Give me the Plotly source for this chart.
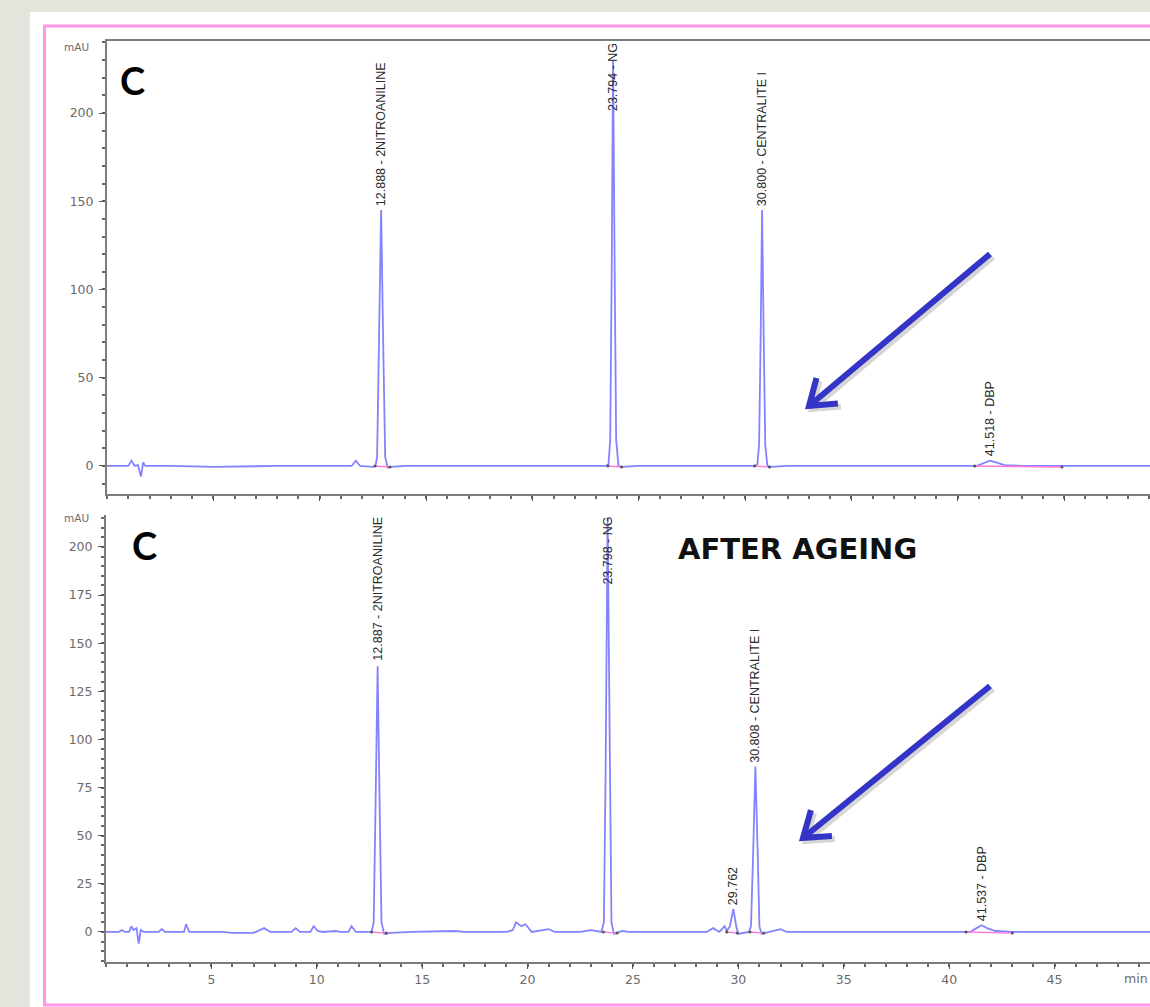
import math
import plotly.graph_objects as go

# ---------------- data ----------------
# Top chromatogram (before ageing): retention time (min) / signal (mAU)
top_t = [0.0, 1.0, 1.15, 1.3, 1.45, 1.6, 1.7, 1.8, 3.0, 5.0, 8.0, 11.5, 11.7, 11.9,
         12.5, 12.62, 12.70, 12.78, 12.888, 13.0, 13.08, 13.2, 13.35, 14.0,
         23.45, 23.58, 23.66, 23.73, 23.794, 23.87, 23.94, 24.05, 24.2, 25.0,
         30.45, 30.58, 30.66, 30.73, 30.800, 30.88, 30.95, 31.05, 31.2, 32.0,
         40.9, 41.2, 41.518, 41.8, 42.2, 43.0, 49.5]
top_y = [0.0, 0.0, 3.0, 0.0, 0.5, -6.0, 2.0, 0.0, 0.0, -0.5, 0.0, 0.0, 3.0, 0.0,
         -0.5, 0.0, 5.0, 60.0, 145.0, 60.0, 5.0, -1.0, -0.5, 0.0,
         0.0, 1.0, 15.0, 110.0, 230.0, 110.0, 15.0, 0.0, -0.5, 0.0,
         0.0, 1.0, 12.0, 70.0, 145.0, 70.0, 12.0, 0.0, -0.5, 0.0,
         0.0, 1.5, 3.0, 2.0, 0.5, 0.0, 0.0]
top_peak_t = [12.888, 23.794, 30.800, 41.518]
top_peak_h = [145.0, 230.0, 145.0, 3.0]
top_peak_labels = ["12.888 - 2NITROANILINE", "23.794 - NG", "30.800 - CENTRALITE I", "41.518 - DBP"]
top_base_start = [12.6, 23.55, 30.45, 40.8]
top_base_end = [13.3, 24.2, 31.15, 44.9]

# Bottom chromatogram (after ageing)
bot_t = [0.0, 0.6, 0.75, 0.9, 1.1, 1.2, 1.3, 1.45, 1.55, 1.65, 1.8, 2.5, 2.65, 2.8,
         3.7, 3.8, 3.95, 5.5, 6.0, 7.0, 7.5, 7.8, 8.8, 9.0, 9.2, 9.7, 9.85, 10.05,
         10.3, 10.9, 11.1, 11.5, 11.65, 11.85, 12.6,
         12.70, 12.78, 12.887, 12.99, 13.07, 13.2, 13.5, 14.5, 16.5, 17.0,
         19.0, 19.3, 19.45, 19.7, 19.9, 20.2, 21.0, 21.3, 22.5, 23.0, 23.5,
         23.62, 23.70, 23.798, 23.90, 23.98, 24.1, 24.5, 24.8,
         28.5, 28.8, 29.1, 29.35, 29.45, 29.6, 29.762, 29.9, 30.0, 30.5,
         30.6, 30.7, 30.808, 30.92, 31.0, 31.1, 32.0, 32.3,
         41.0, 41.3, 41.537, 41.8, 42.2, 43.0, 49.6]
bot_y = [0.0, 0.0, 1.0, 0.0, 0.0, 3.0, 1.0, 2.0, -6.0, 1.0, 0.0, 0.0, 1.5, 0.0,
         0.0, 4.0, 0.0, 0.0, -0.5, -0.5, 2.0, 0.0, 0.0, 2.0, 0.0, 0.0, 3.0, 0.5,
         0.0, 0.5, 0.0, 0.0, 3.0, 0.0, 0.0,
         5.0, 60.0, 138.0, 60.0, 5.0, -1.0, -0.5, 0.0, 0.5, 0.0,
         0.0, 1.0, 5.0, 3.0, 4.0, 0.0, 1.5, 0.0, 0.0, 1.0, 0.0,
         5.0, 80.0, 215.0, 80.0, 5.0, -1.0, 0.5, 0.0,
         0.0, 2.0, 0.0, 3.0, 0.5, 3.0, 12.0, 3.0, -1.0, 0.0,
         3.0, 40.0, 86.0, 40.0, 3.0, -1.0, 1.5, 0.0,
         0.0, 2.0, 3.5, 2.0, 0.5, 0.0, 0.0]
bot_peak_t = [12.887, 23.798, 29.762, 30.808, 41.537]
bot_peak_h = [138.0, 215.0, 12.0, 86.0, 3.5]
bot_peak_labels = ["12.887 - 2NITROANILINE", "23.798 - NG", "29.762", "30.808 - CENTRALITE I", "41.537 - DBP"]
bot_base_start = [12.6, 23.6, 29.45, 30.55, 40.8]
bot_base_end = [13.3, 24.25, 29.95, 31.2, 43.0]

top_yticks = [0, 50, 100, 150, 200]
bot_yticks = [0, 25, 50, 75, 100, 125, 150, 175, 200]
x_ticks = [5, 10, 15, 20, 25, 30, 35, 40, 45]

# ---------------- styling / geometry ----------------
W, H = 1150, 1007
TRACE = "rgba(100,100,255,0.8)"
PINK = "rgb(255,120,220)"
AXIS = "#7d7d7d"
TICKTXT = "#6a6a6a"
TICKFONT = dict(family="DejaVu Sans, Liberation Sans, sans-serif", size=12.5, color=TICKTXT)
LABEL_FONT = dict(family="Liberation Sans, Arial, sans-serif", size=12.5, color="#2a2a2a")

def px(x):
    return x / W

def py(y):
    return 1 - y / H

top_yr = [-15.9, 240.8]
bot_yr = [-15.6, 216.6]
top_dom_y = [py(494), py(41)]
bot_dom_y = [py(962), py(515)]

fig = go.Figure()

fig.add_trace(go.Scatter(x=top_t, y=top_y, mode="lines", xaxis="x", yaxis="y",
                         line=dict(color=TRACE, width=1.8), hoverinfo="skip"))
fig.add_trace(go.Scatter(x=bot_t, y=bot_y, mode="lines", xaxis="x2", yaxis="y2",
                         line=dict(color=TRACE, width=1.8), hoverinfo="skip"))


def baselines(starts, ends, xa, ya):
    xs, ys = [], []
    for s, e in zip(starts, ends):
        xs += [s, e, None]
        ys += [0, -0.6, None]
    fig.add_trace(go.Scatter(x=xs, y=ys, mode="lines+markers", xaxis=xa, yaxis=ya,
                             line=dict(color=PINK, width=1.4),
                             marker=dict(color="#555555", size=3, symbol="circle"),
                             hoverinfo="skip"))

baselines(top_base_start, top_base_end, "x", "y")
baselines(bot_base_start, bot_base_end, "x2", "y2")

annotations = []


def peak_labels(ts, hs, labels, xref, yref, yr, dom):
    pxu = (dom[1] - dom[0]) * H / (yr[1] - yr[0])
    for t, h, lab in zip(ts, hs, labels):
        lab_px = len(lab) * 6.9 + 4
        room = (yr[1] - h) * pxu
        if room < lab_px:
            annotations.append(dict(x=t, y=1, xref=xref, yref=yref + " domain", text=lab,
                                    textangle=-90, showarrow=False, xanchor="center",
                                    yanchor="top", font=LABEL_FONT))
        else:
            annotations.append(dict(x=t, y=h, xref=xref, yref=yref, text=lab, textangle=-90,
                                    showarrow=False, xanchor="center", yanchor="bottom",
                                    yshift=2, font=LABEL_FONT))

peak_labels(top_peak_t, top_peak_h, top_peak_labels, "x", "y", top_yr, top_dom_y)
peak_labels(bot_peak_t, bot_peak_h, bot_peak_labels, "x2", "y2", bot_yr, bot_dom_y)


def paper_text(x, y, text, font, xanchor="center"):
    return dict(x=px(x), y=py(y), xref="paper", yref="paper", text=text, showarrow=False,
                xanchor=xanchor, yanchor="middle", font=font)

CFONT = dict(family="Lato, Open Sans, sans-serif", size=38, color="#000000")
MAUFONT = dict(family="DejaVu Sans, Liberation Sans, sans-serif", size=10.5, color=TICKTXT)
annotations += [
    paper_text(132, 80, "<b>C</b>", CFONT),
    paper_text(144, 545, "<b>C</b>", CFONT),
    paper_text(797, 549, "<b>AFTER AGEING</b>",
               dict(family="DejaVu Sans, Verdana, sans-serif", size=29, color="#111111")),
    paper_text(77, 47, "mAU", MAUFONT),
    paper_text(77, 518, "mAU", MAUFONT),
    paper_text(1150, 978, "min", TICKFONT, xanchor="right"),
]

shapes = [
    dict(type="rect", xref="paper", yref="paper", x0=px(30), x1=1.02, y0=-0.02, y1=py(12),
         fillcolor="white", line=dict(width=0), layer="below"),
    dict(type="rect", xref="paper", yref="paper", x0=px(44.5), x1=1.05, y0=py(1005), y1=py(26),
         fillcolor="rgba(0,0,0,0)", line=dict(color="rgb(255,150,230)", width=3), layer="below"),
]


def arrow(tail, tip, color, width, dx=0, dy=0):
    vx, vy = tail[0] - tip[0], tail[1] - tip[1]
    n = math.hypot(vx, vy)
    vx, vy = vx / n, vy / n
    L = 29
    ends = []
    for ang in (35, -35):
        a = math.radians(ang)
        ex = vx * math.cos(a) - vy * math.sin(a)
        ey = vx * math.sin(a) + vy * math.cos(a)
        ends.append((tip[0] + L * ex, tip[1] + L * ey))
    def P(p):
        return f"{px(p[0] + dx):.5f},{py(p[1] + dy):.5f}"
    path = (f"M{P(tail)} L{P(tip)} M{P(ends[0])} L{P(tip)} L{P(ends[1])}")
    return dict(type="path", xref="paper", yref="paper", path=path,
                line=dict(color=color, width=width), layer="above")

for tail, tip in [((990, 254), (809, 406)), ((990, 686), (803, 838))]:
    shapes.append(arrow(tail, tip, "rgba(0,0,0,0.16)", 6, dx=3, dy=3))
    shapes.append(arrow(tail, tip, "#3434c6", 6))

common_x = dict(showgrid=False, zeroline=False, showline=True, linecolor=AXIS, linewidth=2,
                ticks="outside", ticklen=5, tickwidth=1, tickcolor="#555555",
                tickfont=TICKFONT, tickvals=x_ticks,
                minor=dict(dtick=1, tick0=0, ticks="outside", ticklen=3, tickcolor="#666666",
                           tickwidth=1.5))
common_y = dict(showgrid=False, zeroline=False, showline=True, linecolor=AXIS, linewidth=2,
                ticks="outside", ticklen=6, tickwidth=1, tickcolor="#555555",
                tickfont=TICKFONT, ticklabelstandoff=3)

fig.update_layout(
    width=W, height=H,
    margin=dict(l=0, r=0, t=0, b=0),
    paper_bgcolor="#e4e4dc",
    plot_bgcolor="white",
    showlegend=False,
    annotations=annotations,
    shapes=shapes,
    xaxis=dict(common_x, domain=[px(107), 1], range=[0, 49.04], anchor="y",
               showticklabels=False, mirror=True),
    yaxis=dict(common_y, domain=top_dom_y, range=top_yr, anchor="x", tickvals=top_yticks,
               minor=dict(dtick=10, tick0=0, ticks="outside", ticklen=3, tickcolor="#666666",
                          tickwidth=1.5)),
    xaxis2=dict(common_x, domain=[px(106), 1], range=[0, 49.53], anchor="y2"),
    yaxis2=dict(common_y, domain=bot_dom_y, range=bot_yr, anchor="x2", tickvals=bot_yticks,
                minor=dict(dtick=5, tick0=0, ticks="outside", ticklen=3, tickcolor="#666666",
                           tickwidth=1.5)),
)

fig.write_html("out.html", config=dict(displayModeBar=False),
               post_script="document.body.style.margin='0px';document.body.style.overflow='hidden';")
